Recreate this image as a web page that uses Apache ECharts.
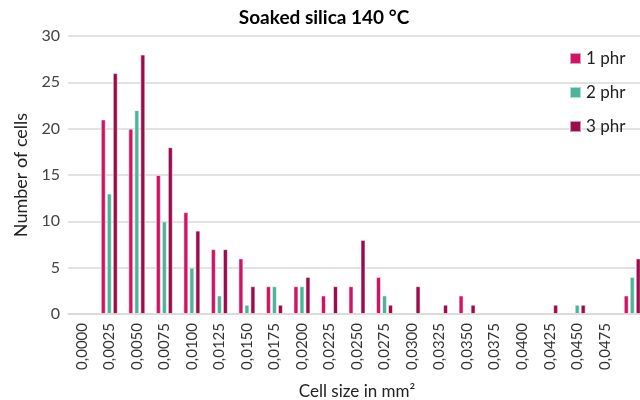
<!DOCTYPE html>
<html>
<head>
<meta charset="utf-8">
<script src="https://cdn.jsdelivr.net/npm/echarts@6/dist/echarts.min.js"></script>
<style>
html, body { margin: 0; padding: 0; background: #fff; }
#main { width: 640px; height: 400px; }
</style>
</head>
<body>
<div id="main"></div>
<script>
var categories = ['0,0000', '0,0025', '0,0050', '0,0075', '0,0100', '0,0125', '0,0150',
	'0,0175', '0,0200', '0,0225', '0,0250', '0,0275', '0,0300', '0,0325', '0,0350',
	'0,0375', '0,0400', '0,0425', '0,0450', '0,0475', ''];
var phr1 = [0, 21, 20, 15, 11, 7, 6, 3, 3, 2, 3, 4, 0, 0, 2, 0, 0, 0, 0, 0, 2];
var phr2 = [0, 13, 22, 10, 5, 2, 1, 3, 3, 0, 0, 2, 0, 0, 0, 0, 0, 0, 1, 0, 4];
var phr3 = [0, 26, 28, 18, 9, 7, 3, 1, 4, 3, 8, 1, 3, 1, 1, 0, 0, 1, 1, 0, 6];
var yTicks = [0, 5, 10, 15, 20, 25, 30];

var font = 'Lato, "Open Sans", sans-serif';

function toBar(arr) {
	// zero counts are left empty
	return arr.map(function(v) { return v === 0 ? '-' : v; });
}

function makeSeries(name, data, color) {
	return {
		name : name,
		type : 'bar',
		data : toBar(data),
		barWidth : 5,
		barGap : '20%',
		itemStyle : {
			color : color,
			borderColor : 'rgba(255,255,255,0.55)',
			borderWidth : 1
		}
	};
}

var option = {
	animation : false,
	backgroundColor : '#ffffff',
	textStyle : { fontFamily : font },
	title : {
		text : 'Soaked silica 140 °C',
		left : 324,
		textAlign : 'center',
		top : 8,
		padding : 0,
		textStyle : { fontFamily : font, fontSize : 19, fontWeight : 'bold', color : '#000' }
	},
	legend : {
		orient : 'vertical',
		left : 569,
		top : 50,
		padding : 0,
		itemWidth : 11,
		itemHeight : 11,
		itemGap : 17,
		icon : 'rect',
		textStyle : { fontFamily : font, fontSize : 17, color : '#222' },
		data : ['1 phr', '2 phr', '3 phr']
	},
	grid : {
		left : 68,
		top : 36,
		bottom : 86,
		right : -6,
		outerBoundsMode : 'none'
	},
	xAxis : {
		type : 'category',
		data : categories,
		name : 'Cell size in mm²',
		nameLocation : 'middle',
		nameGap : 69,
		nameTextStyle : { fontFamily : font, fontSize : 17, color : '#222' },
		axisLine : { lineStyle : { color : '#d9d9d9', width : 1.5 } },
		axisTick : { show : false },
		axisLabel : {
			rotate : 90,
			interval : 0,
			margin : 9,
			fontFamily : font,
			fontSize : 15,
			color : '#333'
		}
	},
	yAxis : {
		type : 'value',
		min : yTicks[0],
		max : yTicks[yTicks.length - 1],
		interval : 5,
		name : 'Number of cells',
		nameLocation : 'middle',
		nameGap : 38,
		nameTextStyle : { fontFamily : font, fontSize : 18, color : '#222' },
		axisLine : { show : false },
		axisTick : { show : false },
		axisLabel : { fontFamily : font, fontSize : 16, color : '#444', margin : 8 },
		splitLine : { lineStyle : { color : '#d9d9d9', width : 1.5 } }
	},
	series : [
		makeSeries('1 phr', phr1, '#cf1562'),
		makeSeries('2 phr', phr2, '#4db39a'),
		makeSeries('3 phr', phr3, '#9b0c4c')
	]
};

var myChart = echarts.init(document.getElementById('main'));
myChart.setOption(option, true);
</script>
</body>
</html>
